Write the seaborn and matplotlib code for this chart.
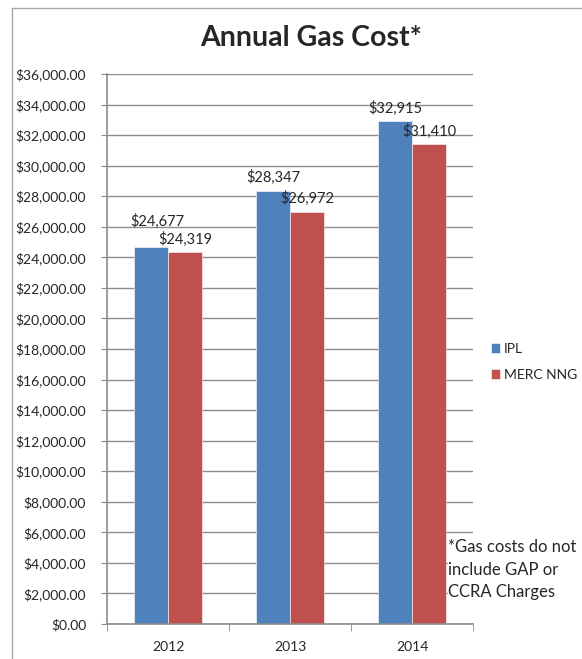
import numpy as np
import pandas as pd
import matplotlib
matplotlib.use("Agg")
import matplotlib.pyplot as plt
from matplotlib.lines import Line2D
from matplotlib.ticker import FuncFormatter, FixedLocator
import seaborn as sns

years = ["2012", "2013", "2014"]
ipl = [24677, 28347, 32915]
merc = [24319, 26972, 31410]
series = ["IPL", "MERC NNG"]
colors = ["#4F81BD", "#C0504D"]

df = pd.DataFrame({
    "Year": years * 2,
    "Cost": ipl + merc,
    "Company": [series[0]] * 3 + [series[1]] * 3,
})

sns.set_style("white")
plt.rcParams["font.family"] = ["Lato", "DejaVu Sans"]

fig = plt.figure(figsize=(5.82, 6.59), dpi=100)
ax = fig.add_axes([107 / 582, 1 - 624 / 659, 366 / 582, 550 / 659])

sns.barplot(data=df, x="Year", y="Cost", hue="Company", palette=colors,
            width=0.56, gap=0, edgecolor="white", linewidth=0.4,
            saturation=1, ax=ax, legend=True)

ax.set_ylim(0, 36000)
ax.set_xlim(-0.5, 2.5)
ax.set_yticks(np.arange(0, 36001, 2000))
ax.yaxis.set_major_formatter(FuncFormatter(lambda v, p: f"${v:,.2f}"))
ax.grid(axis="y", color="#8c8c8c", linewidth=1)
ax.set_axisbelow(True)
ax.set_xlabel("")
ax.set_ylabel("")

for s in ["top", "right"]:
    ax.spines[s].set_visible(False)
for s in ["left", "bottom"]:
    ax.spines[s].set_color("#8c8c8c")
    ax.spines[s].set_linewidth(1.2)

ax.tick_params(axis="y", direction="out", length=4, color="#8c8c8c",
               labelsize=10, pad=11, left=True)
ax.tick_params(axis="x", which="major", length=0, labelsize=10, pad=12)
ax.xaxis.set_minor_locator(FixedLocator([-0.5, 0.5, 1.5, 2.5]))
ax.tick_params(axis="x", which="minor", direction="out", length=5,
               color="#8c8c8c", bottom=True)

# data labels
for ci, cont in enumerate(ax.containers):
    for bi, bar in enumerate(cont):
        val = bar.get_height()
        dx, dy = 0, 4
        if ci == 0 and bi == 0:
            dx, dy = 5, 13
        ax.annotate(f"${val:,.0f}", (bar.get_x() + bar.get_width() / 2, val),
                    xytext=(dx, dy), textcoords="offset points",
                    ha="center", va="bottom", fontsize=10.5)

leg = ax.legend(loc="center left", bbox_to_anchor=(478 / 582, 1 - 362 / 659),
                bbox_transform=fig.transFigure, frameon=False, fontsize=10,
                handlelength=0.68, handleheight=0.68, handletextpad=0.3,
                labelspacing=1.0)

fig.text(311 / 582, 1 - 38 / 659, "Annual Gas Cost*", ha="center", va="center",
         fontsize=20.5, fontweight="bold")
fig.text(448 / 582, 1 - 570 / 659,
         "*Gas costs do not\ninclude GAP or\nCCRA Charges",
         ha="left", va="center", fontsize=12, linespacing=1.5, zorder=5,
         bbox=dict(facecolor="white", edgecolor="none", pad=0.3))

# chart area border
fig.add_artist(Line2D([12 / 582, 1], [1 - 8 / 659, 1 - 8 / 659],
                      transform=fig.transFigure, color="#a6a6a6", linewidth=1))
fig.add_artist(Line2D([12 / 582, 12 / 582], [0, 1 - 8 / 659],
                      transform=fig.transFigure, color="#a6a6a6", linewidth=1))

fig.savefig("out.png", dpi=100)
